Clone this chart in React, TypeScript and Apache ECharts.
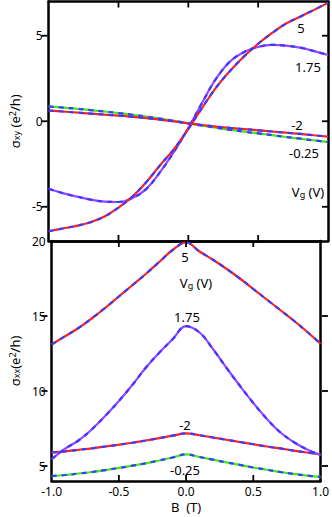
import React, { useEffect, useRef } from "react";
import * as echarts from "echarts";

const B = [-1, -0.9, -0.8, -0.7, -0.6, -0.5, -0.4, -0.3, -0.2, -0.1, 0, 0.1, 0.2, 0.3, 0.4, 0.5, 0.6, 0.7, 0.8, 0.9, 1];

// sigma_xy (e^2/h)
const sxy_5 = [-6.43, -6.27, -6.12, -5.9, -5.57, -5.05, -4.4, -3.55, -2.55, -1.6, -0.45, 0.8, 1.98, 2.95, 3.8, 4.53, 5.16, 5.71, 6.11, 6.51, 6.92];
const sxy_175 = [-3.95, -4.2, -4.4, -4.58, -4.7, -4.72, -4.48, -3.95, -2.95, -1.75, -0.4, 1.1, 2.5, 3.5, 4.05, 4.35, 4.47, 4.42, 4.3, 4.1, 3.87];
const sxy_m2 = [0.62, 0.57, 0.51, 0.45, 0.39, 0.33, 0.26, 0.18, 0.09, -0.01, -0.12, -0.22, -0.31, -0.39, -0.46, -0.53, -0.6, -0.67, -0.74, -0.82, -0.9];
const sxy_m025 = [0.86, 0.8, 0.73, 0.65, 0.57, 0.48, 0.38, 0.27, 0.15, 0.02, -0.12, -0.26, -0.38, -0.5, -0.61, -0.71, -0.81, -0.92, -1.02, -1.12, -1.22];

// sigma_xx (e^2/h)
const sxx_5 = [13.1, 13.65, 14.2, 14.85, 15.55, 16.3, 17.05, 17.8, 18.6, 19.4, 19.9, 19.3, 18.75, 18.15, 17.5, 16.8, 16.1, 15.4, 14.7, 13.95, 13.15];
const sxx_175 = [5.45, 6.15, 6.7, 7.45, 8.35, 9.33, 10.4, 11.55, 12.55, 13.45, 14.33, 13.9, 12.8, 11.55, 10.35, 9.2, 8.15, 7.25, 6.6, 6.1, 5.73];
const sxx_m2 = [5.9, 5.98, 6.08, 6.18, 6.3, 6.42, 6.55, 6.7, 6.86, 7.02, 7.18, 7.05, 6.9, 6.75, 6.6, 6.45, 6.3, 6.17, 6.03, 5.9, 5.78];
const sxx_m025 = [4.33, 4.4, 4.5, 4.6, 4.73, 4.87, 5.02, 5.18, 5.37, 5.57, 5.78, 5.6, 5.42, 5.24, 5.07, 4.9, 4.75, 4.6, 4.47, 4.36, 4.27];

const xTicks = [-1, -0.5, 0, 0.5, 1];
const xInnerTicks = [-0.5, 0, 0.5];
const yTicksTop = [-5, 0, 5];
const yTicksBottom = [5, 10, 15, 20];
const yInnerTicksBottom = [5, 10, 15];

const RED = "#ff1f1f";
const BLUE = "#3b3bff";
const GREEN = "#3ee81a";
const PURPLE = "#9a45ff";

const FONT = "Noto Sans";

function pairs(ys: number[]) {
  return B.map((b, i) => [b, ys[i]]);
}

function curve(ys: number[], color: string, xi: number, yi: number) {
  const base = {
    type: "line",
    xAxisIndex: xi,
    yAxisIndex: yi,
    data: pairs(ys),
    showSymbol: false,
    smooth: 0.4,
    silent: true,
  };
  return [
    { ...base, lineStyle: { color, width: 2.2 } },
    { ...base, lineStyle: { color: BLUE, width: 2.2, type: [5, 5] } },
  ];
}

const rich = {
  n: { fontSize: 13, lineHeight: 18, fontFamily: FONT, color: "#000" },
  sub: { fontSize: 9, lineHeight: 8, verticalAlign: "bottom", fontFamily: FONT, color: "#000" },
  sup: { fontSize: 9, lineHeight: 8, verticalAlign: "top", fontFamily: FONT, color: "#000" },
};

const axisLine = { show: true, onZero: false, lineStyle: { color: "#000", width: 2.5 } };
const noTick = { show: false };

function label(text: string, x: number, y: number) {
  return {
    type: "text",
    x,
    y,
    style: {
      text,
      fontSize: 13,
      fontFamily: FONT,
      fill: "#000",
      align: "center",
      verticalAlign: "middle",
      rich,
    },
    z: 100,
  };
}

export default function App() {
  const ref = useRef<HTMLDivElement>(null);
  useEffect(() => {
    if (!ref.current) return;
    const chart = echarts.init(ref.current, undefined, { renderer: "svg" });
    const gridLeft = 41.5;
    const gridW = 286.5;
    const grids = [
      { left: gridLeft, top: 1.5, width: gridW, height: 239.5 },
      { left: gridLeft, top: 241, width: gridW, height: 240 },
    ];
    const xBase = { type: "value", min: -1, max: 1, interval: 0.5, axisLine, axisTick: noTick, splitLine: { show: false } };
    const labels = [
      label("5", 301, 28),
      label("1.75", 308, 67),
      label("-2", 297, 125),
      label("-0.25", 304, 153),
      label("V{sub|g} (V)", 308, 192),
      label("5", 185, 257),
      label("V{sub|g} (V)", 196, 283),
      label("1.75", 187, 317),
      label("-2", 185, 425),
      label("-0.25", 185, 470),
    ];
    const option: any = {
      animation: false,
      backgroundColor: "#fff",
      grid: grids,
      xAxis: [
        { ...xBase, gridIndex: 0, position: "bottom", axisLabel: { show: false } },
        { ...xBase, gridIndex: 0, position: "top", axisLabel: { show: false } },
        {
          ...xBase, gridIndex: 1, position: "bottom",
          axisLabel: { show: true, fontSize: 12, lineHeight: 12, fontFamily: FONT, color: "#000", margin: 4, formatter: (v: number) => v.toFixed(1), customValues: xTicks },
          name: "B  (T)", nameLocation: "middle", nameGap: 19,
          nameTextStyle: { fontSize: 13, lineHeight: 14, fontFamily: FONT, color: "#000" },
        },
        { ...xBase, gridIndex: 1, position: "top", axisLabel: { show: false } },
      ],
      yAxis: [
        {
          gridIndex: 0, type: "value", position: "left", min: -7, max: 7, axisLine, axisTick: noTick,
          axisLabel: { show: true, fontSize: 12, fontFamily: FONT, color: "#000", margin: 6, customValues: yTicksTop },
          splitLine: { show: false },
          name: "σ{sub|xy} (e{sup|2}/h)", nameLocation: "middle", nameRotate: 90, nameGap: 20,
          nameTextStyle: { fontSize: 13, fontFamily: FONT, color: "#000", rich },
        },
        { gridIndex: 0, type: "value", position: "right", min: -7, max: 7, axisLine, axisTick: noTick, axisLabel: { show: false }, splitLine: { show: false } },
        {
          gridIndex: 1, type: "value", position: "left", min: 4, max: 20, axisLine, axisTick: noTick,
          axisLabel: { show: true, fontSize: 12, fontFamily: FONT, color: "#000", margin: 6, customValues: yTicksBottom },
          splitLine: { show: false },
          name: "σ{sub|xx}(e{sup|2}/h)", nameLocation: "middle", nameRotate: 90, nameGap: 20,
          nameTextStyle: { fontSize: 13, fontFamily: FONT, color: "#000", rich },
        },
        { gridIndex: 1, type: "value", position: "right", min: 4, max: 20, axisLine, axisTick: noTick, axisLabel: { show: false }, splitLine: { show: false } },
      ],
      series: [
        ...curve(sxy_m025, GREEN, 0, 0),
        ...curve(sxy_m2, RED, 0, 0),
        ...curve(sxy_175, PURPLE, 0, 0),
        ...curve(sxy_5, RED, 0, 0),
        ...curve(sxx_m025, GREEN, 2, 2),
        ...curve(sxx_m2, RED, 2, 2),
        ...curve(sxx_175, PURPLE, 2, 2),
        ...curve(sxx_5, RED, 2, 2),
      ],
      graphic: labels,
    };
    chart.setOption(option);

    // inward tick marks on all four sides of both panels, placed through the axes' scales
    const TL = 6;
    const tickStyle = { stroke: "#000", lineWidth: 1.8 };
    const ticks: any[] = [];
    grids.forEach((g, gi) => {
      const xi = gi * 2;
      const yi = gi * 2;
      const top = g.top;
      const bottom = g.top + g.height;
      const left = g.left;
      const right = g.left + g.width;
      xInnerTicks.forEach((v) => {
        const px = chart.convertToPixel({ xAxisIndex: xi }, v) as number;
        ticks.push({ type: "line", shape: { x1: px, y1: top, x2: px, y2: top + TL }, style: tickStyle, z: 50 });
        ticks.push({ type: "line", shape: { x1: px, y1: bottom, x2: px, y2: bottom - TL }, style: tickStyle, z: 50 });
      });
      const yv = gi === 0 ? yTicksTop : yInnerTicksBottom;
      yv.forEach((v) => {
        const py = chart.convertToPixel({ yAxisIndex: yi }, v) as number;
        ticks.push({ type: "line", shape: { x1: left, y1: py, x2: left + TL, y2: py }, style: tickStyle, z: 50 });
        ticks.push({ type: "line", shape: { x1: right, y1: py, x2: right - TL, y2: py }, style: tickStyle, z: 50 });
      });
    });
    chart.setOption({ graphic: [...labels, ...ticks] });
    return () => chart.dispose();
  }, []);
  return <div ref={ref} style={{ position: "fixed", left: 0, top: 0, width: 332, height: 517 }} />;
}
